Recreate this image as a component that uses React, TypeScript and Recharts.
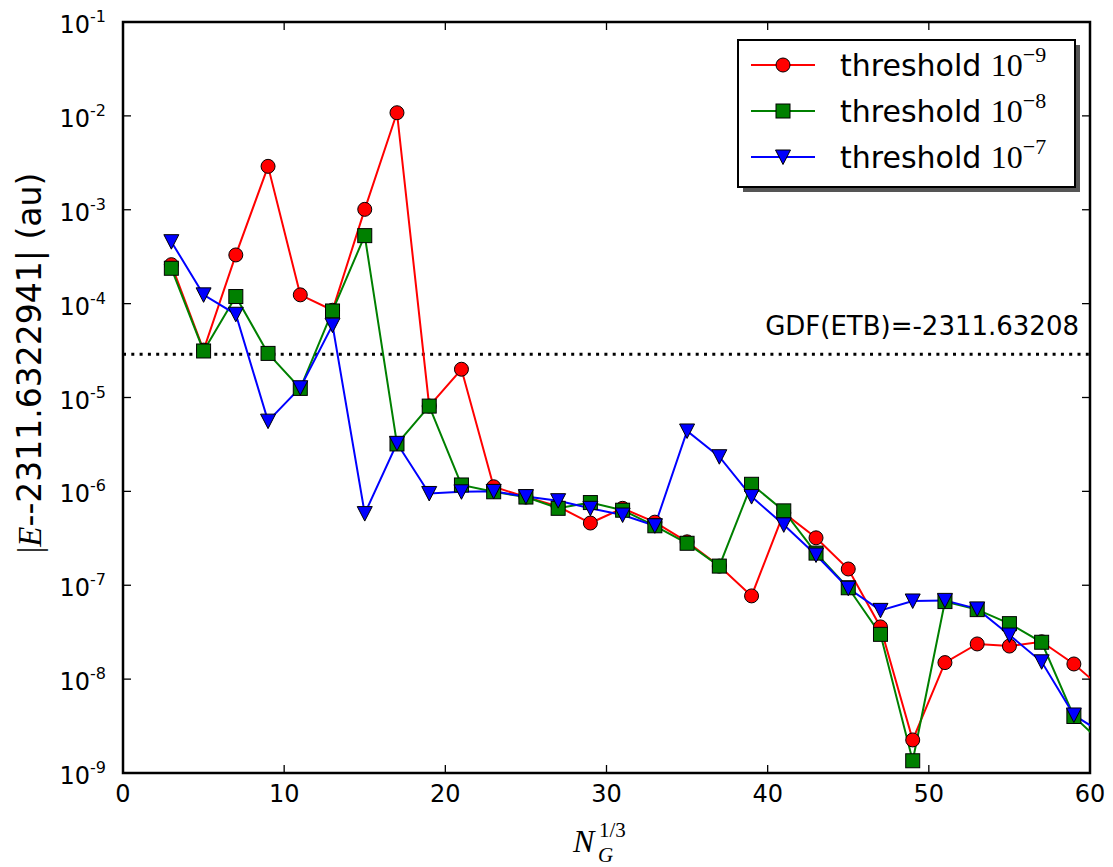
import React from "react";
import { LineChart, Line, XAxis, YAxis, ReferenceLine, ReferenceArea } from "recharts";

// grid sizes N_G^(1/3); last point lies past the axis and gets clipped
const xs = [3, 5, 7, 9, 11, 13, 15, 17, 19, 21, 23, 25, 27, 29, 31, 33, 35, 37, 39, 41, 43, 45, 47, 49, 51, 53, 55, 57, 59, 61];

const thr9 = [2.6e-4, 3.2e-5, 3.3e-4, 2.9e-3, 1.24e-4, 8.5e-5, 1.01e-3, 1.08e-2, 8.1e-6, 2.0e-5, 1.12e-6, 8.7e-7, 6.9e-7, 4.6e-7, 6.6e-7, 4.7e-7, 2.9e-7, 1.6e-7, 7.7e-8, 5.9e-7, 3.2e-7, 1.49e-7, 3.6e-8, 2.25e-9, 1.5e-8, 2.37e-8, 2.25e-8, 2.5e-8, 1.45e-8, 7.3e-9];
const thr8 = [2.38e-4, 3.13e-5, 1.19e-4, 2.95e-5, 1.25e-5, 8.35e-5, 5.3e-4, 3.2e-6, 8.1e-6, 1.17e-6, 9.9e-7, 8.7e-7, 6.6e-7, 7.6e-7, 6.3e-7, 4.3e-7, 2.8e-7, 1.6e-7, 1.19e-6, 6.2e-7, 2.2e-7, 9.4e-8, 3.0e-8, 1.35e-9, 6.7e-8, 5.5e-8, 3.9e-8, 2.47e-8, 4.0e-9, 1.9e-9];
const thr7 = [4.57e-4, 1.24e-4, 7.7e-5, 5.6e-6, 1.27e-5, 5.9e-5, 5.8e-7, 3.25e-6, 9.5e-7, 9.9e-7, 1.0e-6, 8.8e-7, 7.96e-7, 6.6e-7, 5.6e-7, 4.3e-7, 4.4e-6, 2.34e-6, 8.8e-7, 4.4e-7, 2.1e-7, 9.3e-8, 5.4e-8, 6.8e-8, 6.9e-8, 5.6e-8, 2.95e-8, 1.53e-8, 4.15e-9, 2.5e-9];

const xTicks = [0, 10, 20, 30, 40, 50, 60];
const yExps = [-9, -8, -7, -6, -5, -4, -3, -2, -1];
const yTicks = yExps.map((e) => Math.pow(10, e));

const gdfLevel = 2.88e-5;
const gdfText = "GDF(ETB)=-2311.63208";
const legendExps = [-9, -8, -7];

const data = xs.map((x, i) => ({ x, t9: thr9[i], t8: thr8[i], t7: thr7[i] }));

const W = 1113;
const H = 867;
const TOP = 22;
const LEFT = 123;
const RIGHT = 1090;
const BOTTOM = 773;
const SANS = "'DejaVu Sans', sans-serif";
const SERIF = "'Liberation Serif', 'DejaVu Serif', serif";

function XTick({ x, y, payload }: any) {
  return (
    <g>
      <line x1={x} x2={x} y1={y} y2={y - 8} stroke="#000" strokeWidth={1.3} />
      <line x1={x} x2={x} y1={TOP} y2={TOP + 8} stroke="#000" strokeWidth={1.3} />
      <text x={x} y={y + 29} textAnchor="middle" fontFamily={SANS} fontSize={24} fill="#000">
        {payload.value}
      </text>
    </g>
  );
}

function YTick({ x, y, payload }: any) {
  const e = Math.round(Math.log10(payload.value));
  return (
    <g>
      <line x1={x} x2={x + 8} y1={y} y2={y} stroke="#000" strokeWidth={1.3} />
      <line x1={RIGHT - 8} x2={RIGHT} y1={y} y2={y} stroke="#000" strokeWidth={1.3} />
      <text x={x - 17} y={y + 11} textAnchor="end" fontFamily={SANS} fontSize={24} fill="#000">
        10
        <tspan fontSize={16} dy={-11}>{e}</tspan>
      </text>
    </g>
  );
}

function GdfLabel({ viewBox }: any) {
  const vb = viewBox || { x: LEFT, y: 354, width: RIGHT - LEFT };
  return (
    <text x={vb.x + vb.width - 11} y={vb.y - 19} textAnchor="end" fontFamily={SANS} fontSize={26} fill="#000">
      {gdfText}
    </text>
  );
}

const circleDot = (p: any) =>
  p.cx == null ? <g key={`c${p.index}`} /> : (
    <circle key={`c${p.index}`} cx={p.cx} cy={p.cy} r={7} fill="#ff0000" stroke="#000" strokeWidth={1} />
  );

const squareDot = (p: any) =>
  p.cx == null ? <g key={`s${p.index}`} /> : (
    <rect key={`s${p.index}`} x={p.cx - 7} y={p.cy - 7} width={14} height={14} fill="#008000" stroke="#000" strokeWidth={1} />
  );

const triDot = (p: any) =>
  p.cx == null ? <g key={`t${p.index}`} /> : (
    <polygon
      key={`t${p.index}`}
      points={`${p.cx - 7.5},${p.cy - 7} ${p.cx + 7.5},${p.cy - 7} ${p.cx},${p.cy + 7.5}`}
      fill="#0000ff"
      stroke="#000"
      strokeWidth={1}
    />
  );

function LegendMarker({ kind, cx, cy }: { kind: string; cx: number; cy: number }) {
  if (kind === "c") return <circle cx={cx} cy={cy} r={7} fill="#ff0000" stroke="#000" strokeWidth={1} />;
  if (kind === "s") return <rect x={cx - 7} y={cy - 7} width={14} height={14} fill="#008000" stroke="#000" strokeWidth={1} />;
  return (
    <polygon points={`${cx - 7.5},${cy - 7} ${cx + 7.5},${cy - 7} ${cx},${cy + 7.5}`} fill="#0000ff" stroke="#000" strokeWidth={1} />
  );
}

const legendRows = [
  { color: "#ff0000", kind: "c" },
  { color: "#008000", kind: "s" },
  { color: "#0000ff", kind: "t" },
];

export default function App() {
  return (
    <div style={{ position: "relative", width: W, height: H, background: "#fff" }}>
      <style>{`body{margin:0;background:#fff}`}</style>
      <LineChart width={W} height={H} data={data} margin={{ top: TOP, right: W - RIGHT, bottom: 0, left: 0 }}>
        <XAxis
          dataKey="x"
          type="number"
          domain={[0, 60]}
          ticks={xTicks}
          interval={0}
          allowDataOverflow
          axisLine={false}
          tickLine={false}
          tickSize={0}
          tickMargin={0}
          height={H - BOTTOM}
          tick={<XTick />}
        />
        <YAxis
          type="number"
          scale="log"
          domain={[1e-9, 1e-1]}
          ticks={yTicks}
          interval={0}
          allowDataOverflow
          axisLine={false}
          tickLine={false}
          tickSize={0}
          tickMargin={0}
          width={LEFT}
          tick={<YTick />}
        />
        <ReferenceLine
          y={gdfLevel}
          stroke="#000"
          strokeWidth={3}
          strokeDasharray="3 5.3"
          label={<GdfLabel />}
        />
        <Line dataKey="t9" stroke="#ff0000" strokeWidth={2} dot={circleDot} isAnimationActive={false} />
        <Line dataKey="t8" stroke="#008000" strokeWidth={2} dot={squareDot} isAnimationActive={false} />
        <Line dataKey="t7" stroke="#0000ff" strokeWidth={2} dot={triDot} isAnimationActive={false} />
        <ReferenceArea
          x1={0}
          x2={60}
          y1={1e-9}
          y2={1e-1}
          ifOverflow="visible"
          fill="none"
          fillOpacity={0}
          stroke="#000"
          strokeWidth={2.5}
        />
      </LineChart>
      <svg width={W} height={H} style={{ position: "absolute", left: 0, top: 0, pointerEvents: "none" }}>
        <text
          x={41}
          y={363}
          transform="rotate(-90 41 363)"
          textAnchor="middle"
          fontFamily={SANS}
          fontSize={33}
          fill="#000"
        >
          <tspan fontFamily={SERIF}>|</tspan>
          <tspan fontFamily={SERIF} fontStyle="italic">E</tspan>
          --2311.6322941| (au)
        </text>
        <text x={573} y={852} fontFamily={SERIF} fill="#000">
          <tspan fontSize={32} fontStyle="italic">N</tspan>
          <tspan fontSize={21} fontStyle="italic" x={598} y={862}>G</tspan>
          <tspan fontSize={21} x={599} y={837}>1/3</tspan>
        </text>
        <rect x={743} y={45} width={337} height={147} fill="#555" />
        <rect x={738} y={40} width={337} height={147} fill="#fff" stroke="#000" strokeWidth={2} />
        {legendRows.map((r, i) => {
          const cy = 65 + i * 46;
          return (
            <g key={r.kind}>
              <line x1={751} x2={815} y1={cy} y2={cy} stroke={r.color} strokeWidth={2} />
              <LegendMarker kind={r.kind} cx={783} cy={cy} />
              <text x={840} y={cy + 11} fontFamily={SANS} fontSize={30} fill="#000">
                threshold{" "}
                <tspan fontFamily={SERIF} fontSize={32}>10</tspan>
                <tspan fontFamily={SERIF} fontSize={22} dy={-14}>{`\u2212${-legendExps[i]}`}</tspan>
              </text>
            </g>
          );
        })}
      </svg>
    </div>
  );
}
